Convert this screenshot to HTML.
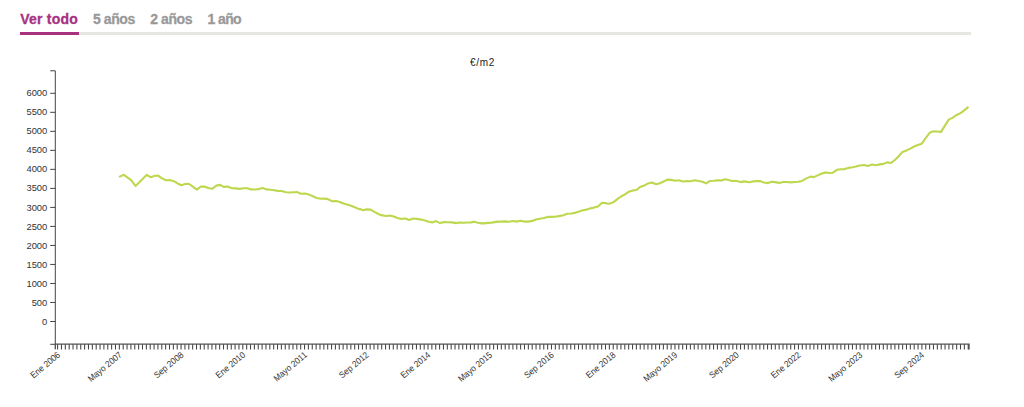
<!DOCTYPE html>
<html lang="es"><head><meta charset="utf-8"><title>Evolución del precio</title>
<style>
html,body{margin:0;padding:0;background:#fff;}
body{width:1024px;height:407px;position:relative;overflow:hidden;font-family:"Liberation Sans",sans-serif;}
.tabs{position:absolute;left:20px;top:0;width:951px;height:35px;}
.tabs .bar{position:absolute;left:0;right:0;top:32px;height:3px;background:#e6e6e3;}
.tabs a{position:absolute;top:10px;font-weight:bold;font-size:14px;line-height:18px;color:#999;text-decoration:none;white-space:nowrap;-webkit-text-stroke:0.3px currentColor;}
.tabs a.on{color:#a8327f;}
.tabs .ul{position:absolute;left:0;top:32px;width:58.5px;height:3px;background:#a8327f;}
svg{position:absolute;left:0;top:0;}
svg text{font-family:"Liberation Sans",sans-serif;fill:#333;}
</style></head><body>
<div class="tabs"><div class="bar"></div><div class="ul"></div>
<a class="on" style="left:0.2px;letter-spacing:0.24px">Ver todo</a><a style="left:73px;letter-spacing:-0.41px">5 años</a><a style="left:130.2px;letter-spacing:-0.41px">2 años</a><a style="left:187.5px;letter-spacing:-0.6px">1 año</a></div>
<svg width="1024" height="407" viewBox="0 0 1024 407">
<text x="482.5" y="65.6" font-size="10" letter-spacing="0.65" text-anchor="middle" style="fill:#222">€/m2</text>
<g fill="none" stroke="#444" stroke-width="1">
<path d="M50.2,70.8H55.3V344.3H50.2"/>
<path d="M50.2,321.50H55.3"/>
<path d="M50.2,302.48H55.3"/>
<path d="M50.2,283.47H55.3"/>
<path d="M50.2,264.45H55.3"/>
<path d="M50.2,245.43H55.3"/>
<path d="M50.2,226.42H55.3"/>
<path d="M50.2,207.40H55.3"/>
<path d="M50.2,188.38H55.3"/>
<path d="M50.2,169.37H55.3"/>
<path d="M50.2,150.35H55.3"/>
<path d="M50.2,131.34H55.3"/>
<path d="M50.2,112.32H55.3"/>
<path d="M50.2,93.30H55.3"/>
</g>
<g font-size="9.4" text-anchor="end">
<text x="47.3" y="324.60">0</text>
<text x="47.3" y="305.58">500</text>
<text x="47.3" y="286.57">1000</text>
<text x="47.3" y="267.55">1500</text>
<text x="47.3" y="248.53">2000</text>
<text x="47.3" y="229.52">2500</text>
<text x="47.3" y="210.50">3000</text>
<text x="47.3" y="191.48">3500</text>
<text x="47.3" y="172.47">4000</text>
<text x="47.3" y="153.45">4500</text>
<text x="47.3" y="134.44">5000</text>
<text x="47.3" y="115.42">5500</text>
<text x="47.3" y="96.40">6000</text>
</g>
<path fill="none" stroke="#555" stroke-width="1.4" d="M55.3,349.3V344.1H969.0V349.4"/>
<path fill="none" stroke="#444" stroke-width="1.05" d="M57.60,344.3v5.2M61.46,344.3v5.2M65.32,344.3v5.2M69.18,344.3v5.2M73.03,344.3v5.2M76.89,344.3v5.2M80.75,344.3v5.2M84.61,344.3v5.2M88.47,344.3v5.2M92.33,344.3v5.2M96.19,344.3v5.2M100.04,344.3v5.2M103.90,344.3v5.2M107.76,344.3v5.2M111.62,344.3v5.2M115.48,344.3v5.2M119.34,344.3v5.2M123.19,344.3v5.2M127.05,344.3v5.2M130.91,344.3v5.2M134.77,344.3v5.2M138.63,344.3v5.2M142.49,344.3v5.2M146.35,344.3v5.2M150.20,344.3v5.2M154.06,344.3v5.2M157.92,344.3v5.2M161.78,344.3v5.2M165.64,344.3v5.2M169.50,344.3v5.2M173.35,344.3v5.2M177.21,344.3v5.2M181.07,344.3v5.2M184.93,344.3v5.2M188.79,344.3v5.2M192.65,344.3v5.2M196.51,344.3v5.2M200.36,344.3v5.2M204.22,344.3v5.2M208.08,344.3v5.2M211.94,344.3v5.2M215.80,344.3v5.2M219.66,344.3v5.2M223.52,344.3v5.2M227.37,344.3v5.2M231.23,344.3v5.2M235.09,344.3v5.2M238.95,344.3v5.2M242.81,344.3v5.2M246.67,344.3v5.2M250.52,344.3v5.2M254.38,344.3v5.2M258.24,344.3v5.2M262.10,344.3v5.2M265.96,344.3v5.2M269.82,344.3v5.2M273.68,344.3v5.2M277.53,344.3v5.2M281.39,344.3v5.2M285.25,344.3v5.2M289.11,344.3v5.2M292.97,344.3v5.2M296.83,344.3v5.2M300.69,344.3v5.2M304.54,344.3v5.2M308.40,344.3v5.2M312.26,344.3v5.2M316.12,344.3v5.2M319.98,344.3v5.2M323.84,344.3v5.2M327.69,344.3v5.2M331.55,344.3v5.2M335.41,344.3v5.2M339.27,344.3v5.2M343.13,344.3v5.2M346.99,344.3v5.2M350.85,344.3v5.2M354.70,344.3v5.2M358.56,344.3v5.2M362.42,344.3v5.2M366.28,344.3v5.2M370.14,344.3v5.2M374.00,344.3v5.2M377.86,344.3v5.2M381.71,344.3v5.2M385.57,344.3v5.2M389.43,344.3v5.2M393.29,344.3v5.2M397.15,344.3v5.2M401.01,344.3v5.2M404.87,344.3v5.2M408.72,344.3v5.2M412.58,344.3v5.2M416.44,344.3v5.2M420.30,344.3v5.2M424.16,344.3v5.2M428.02,344.3v5.2M431.87,344.3v5.2M435.73,344.3v5.2M439.59,344.3v5.2M443.45,344.3v5.2M447.31,344.3v5.2M451.17,344.3v5.2M455.03,344.3v5.2M458.88,344.3v5.2M462.74,344.3v5.2M466.60,344.3v5.2M470.46,344.3v5.2M474.32,344.3v5.2M478.18,344.3v5.2M482.04,344.3v5.2M485.89,344.3v5.2M489.75,344.3v5.2M493.61,344.3v5.2M497.47,344.3v5.2M501.33,344.3v5.2M505.19,344.3v5.2M509.04,344.3v5.2M512.90,344.3v5.2M516.76,344.3v5.2M520.62,344.3v5.2M524.48,344.3v5.2M528.34,344.3v5.2M532.20,344.3v5.2M536.05,344.3v5.2M539.91,344.3v5.2M543.77,344.3v5.2M547.63,344.3v5.2M551.49,344.3v5.2M555.35,344.3v5.2M559.20,344.3v5.2M563.06,344.3v5.2M566.92,344.3v5.2M570.78,344.3v5.2M574.64,344.3v5.2M578.50,344.3v5.2M582.36,344.3v5.2M586.21,344.3v5.2M590.07,344.3v5.2M593.93,344.3v5.2M597.79,344.3v5.2M601.65,344.3v5.2M605.51,344.3v5.2M609.37,344.3v5.2M613.22,344.3v5.2M617.08,344.3v5.2M620.94,344.3v5.2M624.80,344.3v5.2M628.66,344.3v5.2M632.52,344.3v5.2M636.38,344.3v5.2M640.23,344.3v5.2M644.09,344.3v5.2M647.95,344.3v5.2M651.81,344.3v5.2M655.67,344.3v5.2M659.53,344.3v5.2M663.38,344.3v5.2M667.24,344.3v5.2M671.10,344.3v5.2M674.96,344.3v5.2M678.82,344.3v5.2M682.68,344.3v5.2M686.54,344.3v5.2M690.39,344.3v5.2M694.25,344.3v5.2M698.11,344.3v5.2M701.97,344.3v5.2M705.83,344.3v5.2M709.69,344.3v5.2M713.54,344.3v5.2M717.40,344.3v5.2M721.26,344.3v5.2M725.12,344.3v5.2M728.98,344.3v5.2M732.84,344.3v5.2M736.70,344.3v5.2M740.55,344.3v5.2M744.41,344.3v5.2M748.27,344.3v5.2M752.13,344.3v5.2M755.99,344.3v5.2M759.85,344.3v5.2M763.71,344.3v5.2M767.56,344.3v5.2M771.42,344.3v5.2M775.28,344.3v5.2M779.14,344.3v5.2M783.00,344.3v5.2M786.86,344.3v5.2M790.72,344.3v5.2M794.57,344.3v5.2M798.43,344.3v5.2M802.29,344.3v5.2M806.15,344.3v5.2M810.01,344.3v5.2M813.87,344.3v5.2M817.72,344.3v5.2M821.58,344.3v5.2M825.44,344.3v5.2M829.30,344.3v5.2M833.16,344.3v5.2M837.02,344.3v5.2M840.88,344.3v5.2M844.73,344.3v5.2M848.59,344.3v5.2M852.45,344.3v5.2M856.31,344.3v5.2M860.17,344.3v5.2M864.03,344.3v5.2M867.88,344.3v5.2M871.74,344.3v5.2M875.60,344.3v5.2M879.46,344.3v5.2M883.32,344.3v5.2M887.18,344.3v5.2M891.04,344.3v5.2M894.89,344.3v5.2M898.75,344.3v5.2M902.61,344.3v5.2M906.47,344.3v5.2M910.33,344.3v5.2M914.19,344.3v5.2M918.05,344.3v5.2M921.90,344.3v5.2M925.76,344.3v5.2M929.62,344.3v5.2M933.48,344.3v5.2M937.34,344.3v5.2M941.20,344.3v5.2M945.05,344.3v5.2M948.91,344.3v5.2M952.77,344.3v5.2M956.63,344.3v5.2M960.49,344.3v5.2M964.35,344.3v5.2M968.21,344.3v5.2"/>
<g font-size="9" text-anchor="end">
<text transform="translate(60.83,355.90) rotate(-40) scale(0.925,1)">Ene 2006</text>
<text transform="translate(122.54,355.90) rotate(-40) scale(0.925,1)">Mayo 2007</text>
<text transform="translate(184.25,355.90) rotate(-40) scale(0.925,1)">Sep 2008</text>
<text transform="translate(245.96,355.90) rotate(-40) scale(0.925,1)">Ene 2010</text>
<text transform="translate(307.67,355.90) rotate(-40) scale(0.925,1)">Mayo 2011</text>
<text transform="translate(369.39,355.90) rotate(-40) scale(0.925,1)">Sep 2012</text>
<text transform="translate(431.10,355.90) rotate(-40) scale(0.925,1)">Ene 2014</text>
<text transform="translate(492.81,355.90) rotate(-40) scale(0.925,1)">Mayo 2015</text>
<text transform="translate(554.52,355.90) rotate(-40) scale(0.925,1)">Sep 2016</text>
<text transform="translate(616.23,355.90) rotate(-40) scale(0.925,1)">Ene 2018</text>
<text transform="translate(677.94,355.90) rotate(-40) scale(0.925,1)">Mayo 2019</text>
<text transform="translate(739.65,355.90) rotate(-40) scale(0.925,1)">Sep 2020</text>
<text transform="translate(801.37,355.90) rotate(-40) scale(0.925,1)">Ene 2022</text>
<text transform="translate(863.08,355.90) rotate(-40) scale(0.925,1)">Mayo 2023</text>
<text transform="translate(924.79,355.90) rotate(-40) scale(0.925,1)">Sep 2024</text>
</g>
<polyline fill="none" stroke="#bdd74e" stroke-width="2.1" stroke-linejoin="round" stroke-linecap="round" points="119.8,176.6 123.9,174.8 131.4,180.4 135.5,186.0 140.1,181.5 146.8,174.8 150.5,177.2 155.1,175.8 158.2,175.6 162.0,178.4 166.0,180.2 169.5,180.1 173.9,181.2 178.2,183.8 181.4,185.2 185.8,183.8 189.2,184.0 193.2,186.9 197.0,189.6 200.8,186.5 204.5,186.6 208.2,187.9 212.0,188.8 216.4,185.6 220.2,184.9 223.6,186.9 227.6,186.6 232.0,188.2 235.8,188.4 239.8,188.9 243.5,188.2 247.2,188.2 251.0,189.4 254.8,189.5 258.8,189.1 262.5,187.9 266.0,189.4 270.4,189.8 274.1,190.2 277.9,190.9 281.6,191.0 286.0,192.2 289.8,192.5 293.5,192.2 297.2,192.1 301.0,193.8 304.8,193.6 309.1,194.6 312.9,196.2 316.6,198.0 321.0,198.8 324.8,198.6 327.9,199.1 332.2,201.2 336.0,201.0 339.8,202.0 343.5,203.5 347.2,204.6 351.0,205.8 354.8,207.2 359.1,209.1 360.0,209.0 363.1,210.2 366.9,209.4 370.6,209.6 374.4,211.9 378.8,214.2 382.5,215.4 386.2,216.0 390.0,215.6 393.8,216.6 397.5,218.0 401.2,218.9 405.6,218.5 409.1,220.0 413.1,218.5 416.9,218.9 421.2,219.6 425.0,220.6 428.8,221.8 432.2,222.4 436.0,221.1 440.0,223.1 444.4,222.0 448.1,222.2 451.9,222.4 456.0,223.1 459.4,222.5 463.8,222.8 467.5,222.5 471.2,222.4 474.0,221.8 478.1,222.8 481.9,223.4 484.0,223.4 487.8,222.9 491.5,222.6 497.8,221.6 501.5,221.6 505.2,221.4 509.0,221.8 512.8,221.0 517.1,221.6 520.6,220.8 524.6,221.6 528.4,221.6 532.1,220.9 535.9,219.5 539.6,218.8 544.0,218.0 547.8,216.9 551.5,216.9 555.2,216.8 559.0,216.1 563.4,215.2 567.1,213.8 571.5,213.5 575.9,212.6 579.0,211.6 582.8,210.2 586.5,209.6 590.2,208.4 594.0,207.6 597.8,206.6 602.1,202.8 605.2,203.1 608.0,203.8 610.5,203.4 613.6,202.1 617.4,199.1 621.1,196.5 624.9,194.4 628.6,191.8 633.0,190.4 636.5,190.0 640.2,186.9 644.2,185.6 648.0,183.4 651.8,182.5 656.1,184.2 659.9,183.2 663.6,181.5 667.4,179.6 671.1,179.9 675.5,180.8 678.6,180.2 683.0,181.5 686.8,181.1 690.5,181.2 694.9,180.2 698.6,181.0 702.4,181.8 706.1,183.4 709.9,181.0 713.6,180.8 718.0,180.4 721.8,180.4 724.9,179.2 728.6,180.1 732.0,180.9 736.4,181.0 740.8,182.1 744.1,181.4 749.5,182.2 753.2,181.4 757.0,181.0 760.1,181.1 763.9,182.5 768.0,183.1 771.8,181.8 775.1,182.1 779.2,182.9 783.2,182.0 787.0,182.0 790.8,182.4 794.5,182.0 798.2,181.8 802.0,180.9 806.4,178.4 810.5,176.6 813.9,177.1 817.6,175.4 821.4,173.8 825.1,172.4 828.9,173.0 832.6,172.8 836.8,169.8 840.8,169.2 844.5,169.1 848.2,167.9 852.6,167.2 856.0,166.5 859.8,165.5 864.1,165.0 867.9,166.0 872.0,164.5 875.8,165.2 879.8,164.4 883.5,163.9 887.2,162.4 891.0,163.0 894.8,160.0 898.5,156.5 902.5,151.9 906.6,150.4 910.4,148.6 914.1,146.5 917.9,145.0 921.6,143.8 925.4,138.5 929.6,132.8 933.6,131.2 937.4,131.5 941.1,131.9 944.9,125.6 948.9,119.4 952.6,117.9 956.5,115.0 960.5,113.1 964.2,110.4 967.8,107.4"/>
</svg></body></html>
